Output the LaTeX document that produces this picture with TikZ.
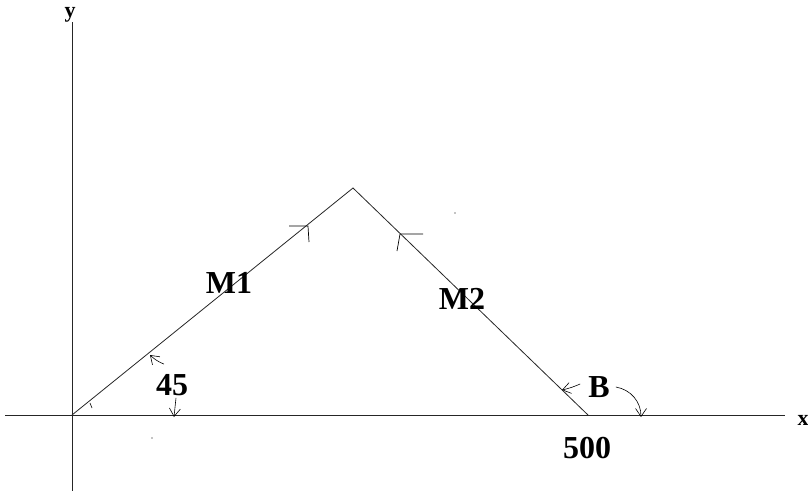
\documentclass[tikz,border=0pt]{standalone}
\usepackage{fontspec}
\setmainfont{Liberation Serif}
\usetikzlibrary{arrows.meta}
\begin{document}
\begin{tikzpicture}[x=1pt,y=-1pt,
  ln/.style={line width=0.8pt,black!85},
  lbl/.style={font=\bfseries\fontsize{32}{32}\selectfont,inner sep=0pt},
  axl/.style={font=\bfseries\fontsize{22}{22}\selectfont,inner sep=0pt},
  tip/.style={-{Straight Barb[length=8pt,width=11pt]},line width=0.6pt}]
\useasboundingbox (0,0) rectangle (808,491);
% axes
\coordinate (xl) at (5,415);
\coordinate (xr) at (785,415);
\coordinate (yt) at (72,22);
\coordinate (yb) at (72,491);
\draw[ln] (xl) -- (xr);
\draw[ln] (yt) -- (yb);
\node[axl] (xlab) at (803,420) {x};
\node[axl] (ylab) at (70,15) {y};
% triangle
\coordinate (O) at (72,415);
\coordinate (A) at (353,188);
\coordinate (F) at (588,415);
\draw[ln] (O) -- (A) -- (F);
% half-arrow marks
\coordinate (m1) at (308,226);
\coordinate (m2) at (400,234);
\draw[line width=0.7pt] (289,226) -- (m1) -- (309,242);
\draw[line width=0.7pt] (423,234) -- (m2) -- (397,251);
% labels
\node[lbl] (M1) at (229,283) {M1};
\node[lbl] (M2) at (462,299) {M2};
\node[lbl] (a45) at (172,385) {45};
\node[lbl] (B) at (599,387) {B};
\node[lbl] (n500) at (587,448) {500};
% angle arrows
\coordinate (t1) at (150,355);
\coordinate (t2) at (174,417);
\coordinate (t3) at (562,390);
\coordinate (t4) at (641,417);
\draw[tip] (a45.north) ++(-8,-10) to[bend left=10] (t1);
\draw[tip] (a45.south) ++(4,2) -- (t2);
\draw[tip] (B.west) ++(-8,-3) to[bend left=5] (t3);
\draw[tip] (B.east) ++(6,0) to[bend left=40] (t4);
% small specks
\fill (152,438) circle (0.7);
\fill (455,213) circle (0.7);
\draw[line width=0.6pt] (90,403) -- (92,408);
\end{tikzpicture}
\end{document}
